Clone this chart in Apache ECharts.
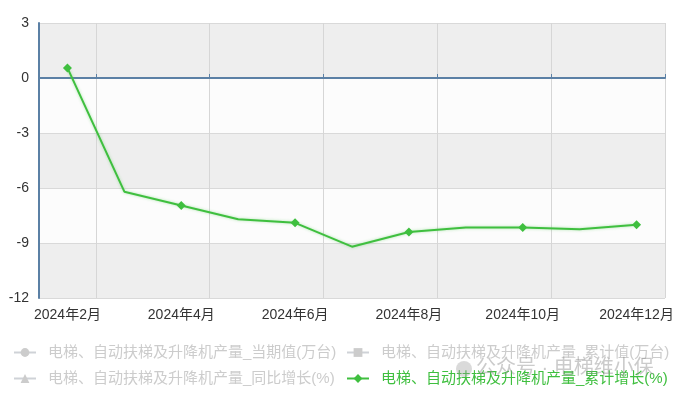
<!DOCTYPE html>
<html>
<head>
<meta charset="utf-8">
<script src="https://cdn.jsdelivr.net/npm/echarts@6/dist/echarts.min.js"></script>
<style>html,body{margin:0;padding:0;background:#fff}#c{width:682px;height:400px}</style>
</head>
<body>
<div id="c"></div>
<script>
var categories = ['2024年2月','2024年3月','2024年4月','2024年5月','2024年6月','2024年7月','2024年8月','2024年9月','2024年10月','2024年11月','2024年12月'];
var cumGrowth = [0.55, -6.2, -6.95, -7.7, -7.9, -9.2, -8.4, -8.15, -8.15, -8.25, -8.0];
var seriesNames = ['电梯、自动扶梯及升降机产量_当期值(万台)','电梯、自动扶梯及升降机产量_累计值(万台)','电梯、自动扶梯及升降机产量_同比增长(%)','电梯、自动扶梯及升降机产量_累计增长(%)'];
var yTicks = {min: -12, max: 3, interval: 3};
var watermark = '公众号 · 电梯维小保';

var FONT = "'Liberation Sans', 'Noto Sans CJK SC', sans-serif";
var GREEN = '#3fbf3f';
var AXIS = '#5b80a5';
var chart = echarts.init(document.getElementById('c'), null, {renderer: 'canvas'});
var oddIdx = function (i) { return i % 2 === 1; };
var sel = {};
sel[seriesNames[0]] = false; sel[seriesNames[1]] = false; sel[seriesNames[2]] = false; sel[seriesNames[3]] = true;

var legendBase = {
  orient: 'vertical', itemGap: 11, itemWidth: 22, itemHeight: 11,
  textStyle: {fontSize: 15, fontFamily: FONT, color: GREEN, padding: [0, 0, 0, 7]},
  inactiveColor: '#cccccc', selected: sel, padding: 0
};

chart.setOption({
  animation: false,
  textStyle: {fontFamily: FONT},
  legend: [
    Object.assign({}, legendBase, {left: 13, top: 345, data: [seriesNames[0], seriesNames[2]]}),
    Object.assign({}, legendBase, {left: 346, top: 345, data: [seriesNames[1], seriesNames[3]]})
  ],
  grid: {left: 39, right: 17, top: 23, bottom: 102, containLabel: false},
  xAxis: [{
    type: 'category', data: categories, boundaryGap: true, position: 'bottom',
    axisLine: {show: true, onZero: true, lineStyle: {color: AXIS, width: 2}},
    axisTick: {show: true, inside: true, length: 4, interval: function (i) { return oddIdx(i); }, lineStyle: {color: AXIS}},
    axisLabel: {show: false},
    splitLine: {show: true, interval: function (i) { return oddIdx(i); }, lineStyle: {color: '#d6d6d6', width: 1}}
  }, {
    type: 'category', data: categories, boundaryGap: true, position: 'bottom',
    axisLine: {show: false, onZero: false},
    axisTick: {show: false},
    axisLabel: {show: true, interval: 1, fontSize: 14, color: '#333', margin: 10, fontFamily: FONT},
    splitLine: {show: false}
  }],
  yAxis: {
    type: 'value', min: yTicks.min, max: yTicks.max, interval: yTicks.interval,
    axisLine: {show: true, onZero: false, lineStyle: {color: AXIS, width: 2}},
    axisTick: {show: false},
    axisLabel: {fontSize: 14, color: '#333', margin: 10, fontFamily: FONT},
    splitLine: {show: true, lineStyle: {color: '#d9d9d9', width: 1}},
    splitArea: {show: true, areaStyle: {color: ['#eeeeee', '#fcfcfc']}}
  },
  series: [
    {name: seriesNames[0], type: 'line', symbol: 'circle', symbolSize: 8, data: [], itemStyle: {color: '#aaa'}},
    {name: seriesNames[1], type: 'line', symbol: 'rect', symbolSize: 8, data: [], itemStyle: {color: '#aaa'}},
    {name: seriesNames[2], type: 'line', symbol: 'triangle', symbolSize: 8, data: [], itemStyle: {color: '#aaa'}},
    {
      name: seriesNames[3], type: 'line', symbol: 'diamond', symbolSize: 9, showAllSymbol: true,
      data: cumGrowth.map(function (v, i) { return i % 2 ? {value: v, symbol: 'none'} : v; }),
      lineStyle: {color: GREEN, width: 2, shadowColor: 'rgba(80,200,80,0.45)', shadowBlur: 3},
      itemStyle: {color: GREEN},
      z: 5
    }
  ],
  graphic: [{
    type: 'circle', shape: {cx: 464, cy: 369, r: 8}, z: 100,
    style: {fill: 'rgba(150,150,150,0.35)'}
  }, {
    type: 'text', left: 476, top: 358, z: 100,
    style: {text: watermark, fontSize: 20, fill: 'rgba(140,140,140,0.45)', fontFamily: FONT}
  }]
});
</script>
</body>
</html>
